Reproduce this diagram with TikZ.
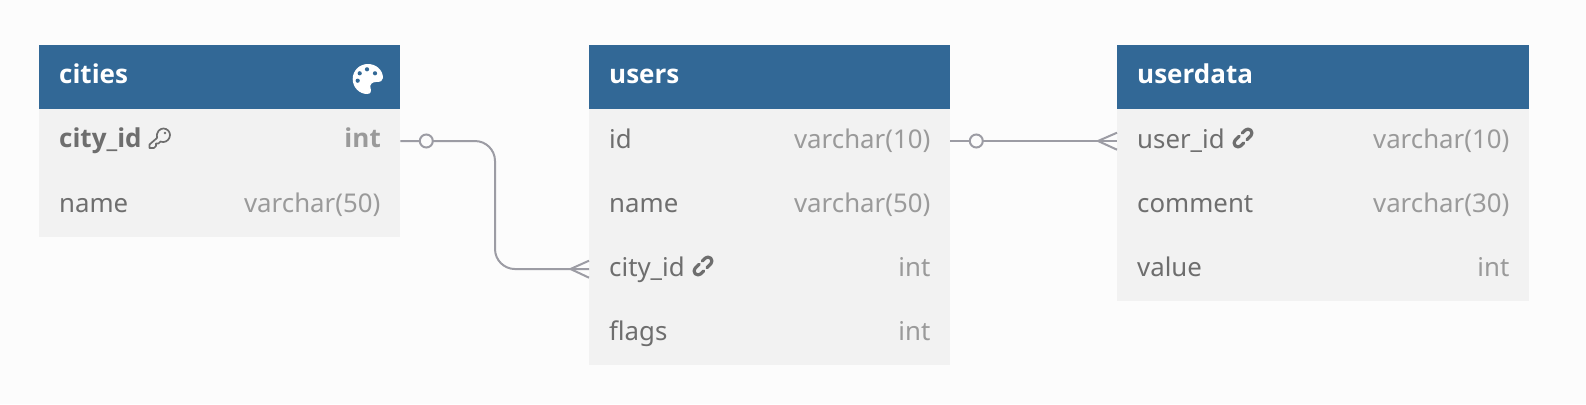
\documentclass[tikz,border=0pt]{standalone}
\usepackage{fontspec}
\usetikzlibrary{calc}
\setmainfont{Noto Sans}
\newfontfamily\hbold{Open Sans}
\definecolor{pagebg}{HTML}{FCFCFC}
\definecolor{headblue}{HTML}{326896}
\definecolor{rowgrey}{HTML}{F2F2F2}
\definecolor{nametext}{HTML}{6E6E6E}
\definecolor{typetext}{HTML}{9A9A9A}
\definecolor{linkgrey}{HTML}{9C9CA4}
\tikzset{
  x=1pt,y=-1pt,
  headbox/.style={fill=headblue,inner sep=0pt,minimum height=64pt,anchor=north west},
  rowbox/.style={fill=rowgrey,inner sep=0pt,minimum height=64pt,anchor=north west},
  headtext/.style={anchor=base west,inner sep=0pt,text=white,font=\hbold\bfseries\fontsize{26}{26}\selectfont},
  nametxt/.style={anchor=base west,inner sep=0pt,text=nametext,font=\fontsize{25.8}{26}\selectfont},
  typetxt/.style={anchor=base east,inner sep=0pt,text=typetext,font=\fontsize{25.8}{26}\selectfont},
  conn/.style={draw=linkgrey,line width=2pt},
  zerocircle/.style={circle,draw=linkgrey,line width=2pt,fill=pagebg,minimum size=13pt,inner sep=0pt},
  iconline/.style={draw=nametext,line width=1.7pt,line cap=round,line join=round},
  linkline/.style={draw=nametext,line width=3.2pt,line cap=round,line join=round},
}
\newcommand{\linkicon}[2]{%
  \begin{scope}[shift={(#1,#2)},rotate=45]
    \draw[linkline,rounded corners=4pt] (-1.5,-4) -- (-11,-4) -- (-11,4) -- (-3,4);
    \draw[linkline,rounded corners=4pt] (1.5,4) -- (11,4) -- (11,-4) -- (3,-4);
  \end{scope}}
\begin{document}
\begin{tikzpicture}
\useasboundingbox (0,0) rectangle (1586,404);
\fill[pagebg] (0,0) rectangle (1586,404);

% cities
\node[rowbox,minimum width=361pt] (c1) at (39,109) {};
\node[rowbox,minimum width=361pt] (c2) at (39,173) {};
\node[headbox,minimum width=361pt] (ch) at (39,45) {};
\node[headtext] (chT) at (59,83.7) {cities};
\node[nametxt,font=\hbold\bfseries\fontsize{26}{26}\selectfont] (c1n) at (59,147.8) {city\_id};
\node[typetxt,font=\hbold\bfseries\fontsize{26}{26}\selectfont] (c1t) at (381,147.8) {int};
\node[nametxt] (c2n) at (59,212) {name};
\node[typetxt] (c2t) at (380.5,212) {varchar(50)};

% users
\node[rowbox,minimum width=361pt] (u1) at (589,109) {};
\node[rowbox,minimum width=361pt] (u2) at (589,173) {};
\node[rowbox,minimum width=361pt] (u3) at (589,237) {};
\node[rowbox,minimum width=361pt] (u4) at (589,301) {};
\node[headbox,minimum width=361pt] (uh) at (589,45) {};
\node[headtext] (uhT) at (609,83.7) {users};
\node[nametxt] (u1n) at (609,148) {id};
\node[typetxt] (u1t) at (930.5,148) {varchar(10)};
\node[nametxt] (u2n) at (609,212) {name};
\node[typetxt] (u2t) at (930.5,212) {varchar(50)};
\node[nametxt] (u3n) at (609,276) {city\_id};
\node[typetxt] (u3t) at (930.5,276) {int};
\node[nametxt] (u4n) at (609,340) {flags};
\node[typetxt] (u4t) at (930.5,340) {int};

% userdata
\node[rowbox,minimum width=412pt] (d1) at (1117,109) {};
\node[rowbox,minimum width=412pt] (d2) at (1117,173) {};
\node[rowbox,minimum width=412pt] (d3) at (1117,237) {};
\node[headbox,minimum width=412pt] (dh) at (1117,45) {};
\node[headtext] (dhT) at (1137,83.7) {userdata};
\node[nametxt] (d1n) at (1137,148) {user\_id};
\node[typetxt] (d1t) at (1509.5,148) {varchar(10)};
\node[nametxt] (d2n) at (1137,212) {comment};
\node[typetxt] (d2t) at (1509.5,212) {varchar(30)};
\node[nametxt] (d3n) at (1137,276) {value};
\node[typetxt] (d3t) at (1509.5,276) {int};

% connectors
\coordinate (mid1) at (495,141);
\coordinate (mid2) at (495,269);
\draw[conn,rounded corners=20pt] (c1.east) -- (mid1) -- (mid2) -- (u3.west);
\draw[conn] (u1.east) -- (d1.west);
\node[zerocircle] (z1) at (426.3,141) {};
\node[zerocircle] (z2) at (976.3,141) {};
\coordinate (ca1) at (570.5,269);
\coordinate (ca2) at (1098,141);
\draw[conn] ($(u3.west)+(0,-8.5)$) -- (ca1) -- ($(u3.west)+(0,8.5)$);
\draw[conn] ($(d1.west)+(0,-8.5)$) -- (ca2) -- ($(d1.west)+(0,8.5)$);

% palette icon
\fill[white] (368,64) .. controls (359,64) and (352.7,71) .. (352.7,79)
  .. controls (352.7,88) and (360,94) .. (367,94)
  .. controls (371,94) and (371.5,91) .. (370.5,88)
  .. controls (369.5,84) and (372.5,82) .. (376,82)
  .. controls (380.5,82) and (383,81) .. (383,78)
  .. controls (383,70) and (376,64) .. (368,64) -- cycle;
\fill[headblue] (357.7,80.7) circle (2.1) (359.7,73.3) circle (2.1) (367,69.3) circle (2.1) (375,73.3) circle (2.1);

% key icon
\draw[iconline] (157,138) .. controls (156,131) and (160.5,128.5) .. (163.5,128.5)
  .. controls (167.5,128.5) and (170,132) .. (170,135)
  .. controls (170,139) and (166.5,142) .. (163.5,142)
  .. controls (162,142) and (161,141.7) .. (160.5,141.5)
  -- (158.5,143.5) -- (156,143.5) -- (156,146) -- (154,148) -- (149.5,148) -- (149.5,144.5) -- cycle;
\fill[nametext] (165,133) circle (1.3);

% link icons
\linkicon{703}{266}
\linkicon{1243}{138}
\end{tikzpicture}
\end{document}
